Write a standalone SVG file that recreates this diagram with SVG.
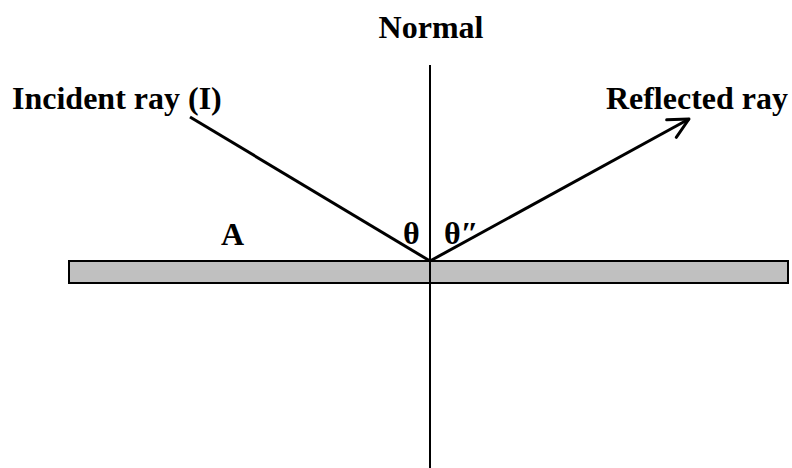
<svg xmlns="http://www.w3.org/2000/svg" width="792" height="468" viewBox="0 0 792 468">
<style>
text{font-family:"Liberation Serif","Times New Roman",serif;font-weight:bold;font-size:32px;fill:#000}
.ray{stroke:#000;stroke-width:3;fill:none}
</style>
<defs>
<marker id="open" markerUnits="userSpaceOnUse" markerWidth="30" markerHeight="30" refX="22" refY="12" orient="auto" viewBox="0 0 30 24">
<path d="M2,2 L22,12 L2,22" fill="none" stroke="#000" stroke-width="3" stroke-linecap="round" stroke-linejoin="round"/>
</marker>
</defs>
<rect width="792" height="468" fill="#fff"/>
<g id="mirror">
<rect x="69" y="261" width="719" height="22" fill="#c0c0c0" stroke="#000" stroke-width="2"/>
</g>
<g id="connectors">
<line id="normal" x1="430" y1="65" x2="430" y2="468" stroke="#000" stroke-width="2"/>
<line id="incident" class="ray" x1="190" y1="117" x2="430" y2="261"/>
<line id="reflected" class="ray" x1="430" y1="261" x2="689" y2="119" marker-end="url(#open)"/>
</g>
<g id="labels">
<text x="431" y="38" text-anchor="middle">Normal</text>
<text x="12" y="109">Incident ray (I)</text>
<text x="788" y="109" text-anchor="end">Reflected ray</text>
<text x="221" y="245">A</text>
<text x="403" y="244">θ</text>
<text x="444" y="244">θ″</text>
</g>
</svg>
